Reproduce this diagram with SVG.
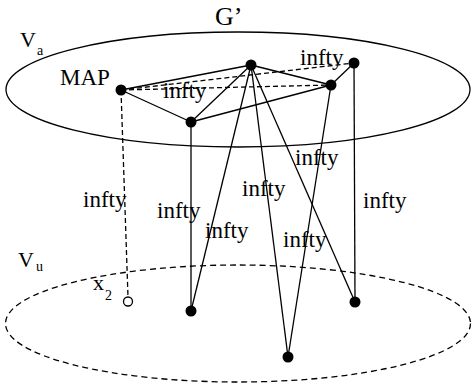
<svg xmlns="http://www.w3.org/2000/svg" width="472" height="389" viewBox="0 0 472 389">
<style>
text{font-family:"Liberation Serif","Times New Roman",serif;fill:#000}
.lbl{font-size:23px}
.sub{font-size:14px}
.e{stroke:#000;stroke-width:1.3;fill:none}
.d{stroke:#000;stroke-width:1.3;fill:none;stroke-dasharray:5,3}
.n{fill:#000}
</style>
<rect width="472" height="389" fill="#fff"/>
<g id="plane-a">
<ellipse cx="238" cy="89.5" rx="232" ry="57.5" class="e"/>
<text x="20" y="47" style="font-size:22px">V</text>
<text x="37" y="55" class="sub">a</text>
</g>
<g id="plane-u">
<ellipse cx="238" cy="323.5" rx="232.5" ry="58.5" class="e" style="stroke-dasharray:6,4"/>
<text x="18" y="267" style="font-size:22px">V</text>
<text x="36" y="271" class="sub">u</text>
</g>
<text id="title" x="215" y="25" style="font-size:26px">G’</text>
<g id="connectors">
<line x1="121" y1="90" x2="251" y2="65" class="e"/>
<line x1="121" y1="90" x2="191" y2="122" class="e"/>
<line x1="121" y1="90" x2="354" y2="63" class="d"/>
<line x1="121" y1="90" x2="331" y2="85" class="d"/>
<line x1="191" y1="122" x2="251" y2="65" class="e"/>
<line x1="191" y1="122" x2="331" y2="85" class="e"/>
<line x1="251" y1="65" x2="331" y2="85" class="e"/>
<line x1="331" y1="85" x2="354" y2="63" class="e"/>
<line x1="121" y1="90" x2="128" y2="297" class="d"/>
<line x1="191" y1="122" x2="191" y2="311" class="e"/>
<line x1="251" y1="65" x2="191" y2="311" class="e"/>
<line x1="251" y1="65" x2="288" y2="357" class="e"/>
<line x1="251" y1="65" x2="355" y2="302" class="e"/>
<line x1="331" y1="85" x2="288" y2="357" class="e"/>
<line x1="354" y1="63" x2="355" y2="302" class="e"/>
</g>
<g id="edge-labels">
<text x="163" y="98" class="lbl">infty</text>
<text x="300" y="65" class="lbl">infty</text>
<text x="83" y="207" class="lbl">infty</text>
<text x="157" y="218" class="lbl">infty</text>
<text x="205" y="238" class="lbl">infty</text>
<text x="295" y="165" class="lbl">infty</text>
<text x="242" y="196" class="lbl">infty</text>
<text x="363" y="208" class="lbl">infty</text>
<text x="283" y="247" class="lbl">infty</text>
</g>
<g id="node-map"><circle cx="121" cy="90" r="5.5" class="n"/><text x="60" y="85" class="lbl">MAP</text></g>
<g id="node-a2"><circle cx="191" cy="122" r="5.5" class="n"/></g>
<g id="node-a3"><circle cx="251" cy="65" r="5.5" class="n"/></g>
<g id="node-a4"><circle cx="331" cy="85" r="5.5" class="n"/></g>
<g id="node-a5"><circle cx="354" cy="63" r="5.5" class="n"/></g>
<g id="node-x2"><circle cx="128" cy="301.5" r="4.5" fill="#fff" stroke="#000" stroke-width="1.3"/><text x="93" y="290" style="font-size:22px">x</text><text x="105" y="300" class="sub">2</text></g>
<g id="node-u2"><circle cx="191" cy="311" r="5.5" class="n"/></g>
<g id="node-u3"><circle cx="288" cy="357" r="5.5" class="n"/></g>
<g id="node-u4"><circle cx="355" cy="302" r="5.5" class="n"/></g>
</svg>
